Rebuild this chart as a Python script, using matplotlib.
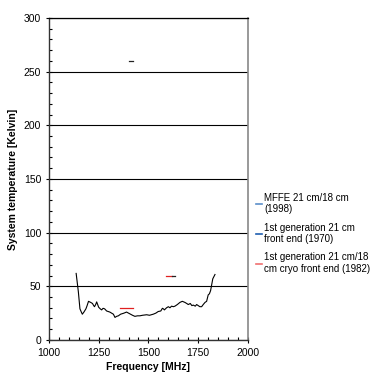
import matplotlib.pyplot as plt
from matplotlib.lines import Line2D
from matplotlib.ticker import MultipleLocator

plt.rcParams['font.family'] = ['Liberation Sans', 'DejaVu Sans']

# MFFE 21 cm/18 cm (1998) measured curve
mffe_freq = [1137, 1148, 1156, 1163, 1168, 1176, 1186, 1192, 1199, 1210, 1219, 1225, 1229,
             1235, 1240, 1245, 1250, 1258, 1265, 1272, 1280, 1290, 1298, 1306, 1315, 1324,
             1332, 1340, 1349, 1360, 1377, 1390, 1400, 1410, 1420, 1432, 1445, 1457, 1470,
             1491, 1505, 1524, 1537, 1549, 1562, 1570, 1575, 1580, 1591, 1600, 1608, 1616,
             1625, 1633, 1645, 1658, 1670, 1683, 1692, 1700, 1710, 1718, 1725, 1735, 1742,
             1750, 1758, 1767, 1775, 1784, 1792, 1800, 1806, 1812, 1818, 1823, 1834]
mffe_temp = [62, 45, 29, 26, 24, 26, 29, 32, 36, 35, 34, 32, 31,
             33, 35.5, 33, 30.5, 29, 28, 29.5, 29, 27, 26.5, 26, 25, 24,
             21, 22, 22.5, 24, 25, 26, 25, 24, 23, 22, 22.5, 22.5, 23,
             23.5, 23, 24, 25, 26.5, 27, 29.5, 29, 28, 30, 31, 30, 31.5,
             31, 31.5, 33, 35, 36, 35, 34, 33, 34, 32, 32.5, 31.5, 33,
             32, 31, 31, 33, 35, 36, 42, 43, 46, 52, 57, 61]

# 1st generation 21 cm front end (1970)
gen1_freq = [1400, 1420, None, 1620, 1633]
gen1_temp = [260, 260, None, 60, 60]

# 1st generation 21 cm/18 cm cryo front end (1982)
cryo_freq = [1357, 1420, None, 1588, 1620]
cryo_temp = [30, 30, None, 60, 60]

labels = ["MFFE 21 cm/18 cm\n(1998)",
          "1st generation 21 cm\nfront end (1970)",
          "1st generation 21 cm/18\ncm cryo front end (1982)"]
legend_colors = ["#5b8fc9", "#1f5fb0", "#f07070"]


def nan_gaps(vals):
    return [float('nan') if v is None else v for v in vals]


fig = plt.figure(figsize=(3.73, 3.74), dpi=100)
ax = fig.add_axes([0.131, 0.091, 0.534, 0.861])

ax.plot(mffe_freq, mffe_temp, color="black", lw=0.8)
ax.plot(nan_gaps(cryo_freq), nan_gaps(cryo_temp), color="#e02020", lw=0.9)
ax.plot(nan_gaps(gen1_freq), nan_gaps(gen1_temp), color="#222222", lw=0.9)

ax.set_xlim(1000, 2000)
ax.set_ylim(0, 300)
ax.xaxis.set_major_locator(MultipleLocator(250))
ax.xaxis.set_minor_locator(MultipleLocator(50))
ax.yaxis.set_major_locator(MultipleLocator(50))
ax.yaxis.set_minor_locator(MultipleLocator(10))
ax.tick_params(which="major", direction="inout", length=5, width=0.8, labelsize=7.5, pad=3)
ax.tick_params(which="minor", direction="in", length=2.5, width=0.8)
ax.grid(axis="y", which="major", color="black", lw=0.8)
ax.set_axisbelow(True)

for s in ["left", "bottom"]:
    ax.spines[s].set_color("#333333")
    ax.spines[s].set_linewidth(1.0)
ax.spines["top"].set_color("black")
ax.spines["top"].set_linewidth(0.9)
ax.spines["right"].set_color("#888888")
ax.spines["right"].set_linewidth(1.2)

ax.set_xlabel("Frequency [MHz]", fontsize=7.5, fontweight="bold", labelpad=3)
ax.set_ylabel("System temperature [Kelvin]", fontsize=7.5, fontweight="bold", labelpad=4)

handles = [Line2D([], [], color=c, lw=1.2) for c in legend_colors]
fig.legend(handles, labels, loc="upper left", bbox_to_anchor=(0.675, 0.495),
           frameon=False, fontsize=7, handlelength=0.7, handletextpad=0.2,
           labelspacing=0.85, borderaxespad=0)

fig.savefig("out.png", dpi=100)
